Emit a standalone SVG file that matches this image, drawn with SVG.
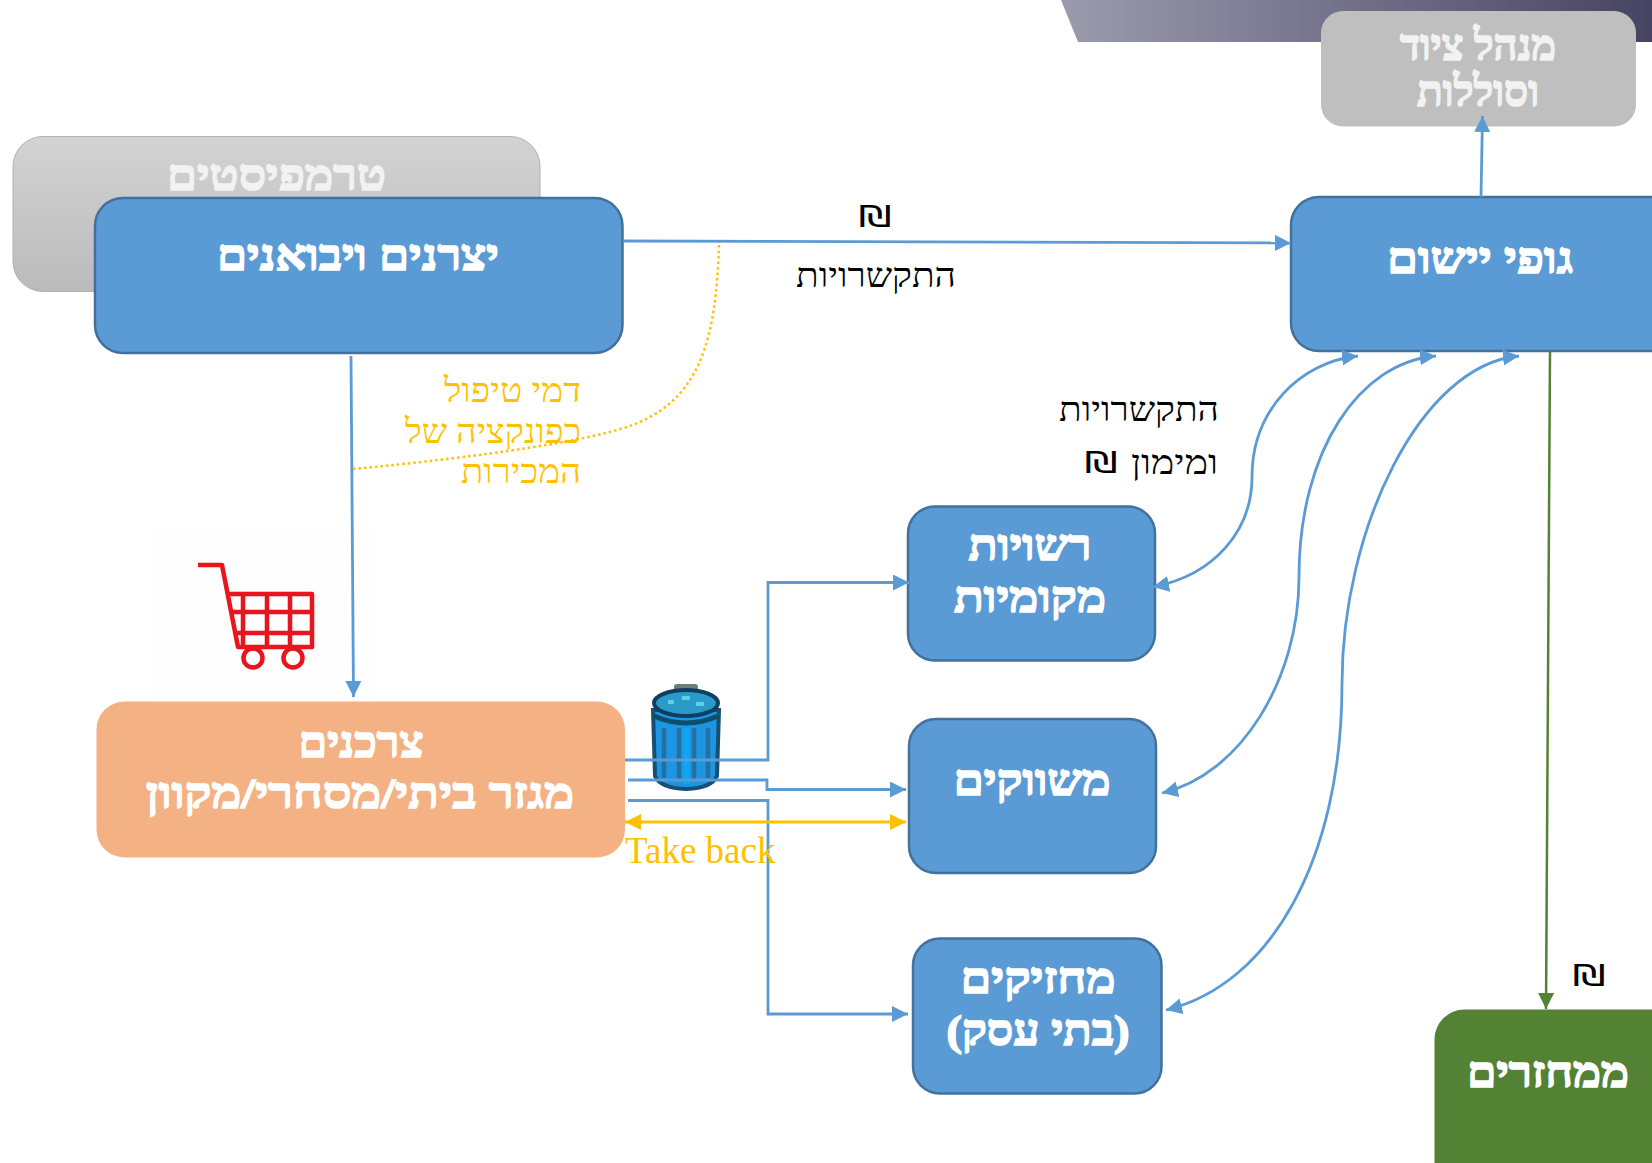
<svg xmlns="http://www.w3.org/2000/svg" width="1652" height="1163" viewBox="0 0 1652 1163">
<style>
text{font-family:"Liberation Serif","Noto Sans CJK SC",serif;direction:rtl;unicode-bidi:embed}
.t{font-weight:bold;font-size:43px;fill:#fff;stroke:#fff;stroke-width:1.600px;text-anchor:middle}
.g{fill:#f2f2f2;stroke:#f2f2f2}
.b{fill:#5b9bd5;stroke:#41719c;stroke-width:2.5}
.l{font-size:34px;fill:#000;text-anchor:start}
.y{font-size:34px;fill:#ffc000;text-anchor:start}
.s{font-family:"DejaVu Sans",sans-serif;font-size:31px;fill:#000;text-anchor:middle}
.c{fill:none;stroke:#5b9bd5;stroke-width:2.800}
</style>
<defs>
<linearGradient id="gb" x1="0" x2="1" y1="0" y2="0"><stop offset="0" stop-color="#9b9bad"/><stop offset="1" stop-color="#474463"/></linearGradient>
<linearGradient id="gg" x1="0" x2="0" y1="0" y2="1"><stop offset="0" stop-color="#d3d3d3"/><stop offset="1" stop-color="#bbbbbb"/></linearGradient>
<filter id="soft" x="-10%" y="-10%" width="120%" height="120%"><feGaussianBlur stdDeviation="0.700"/></filter>
<marker id="a" markerUnits="userSpaceOnUse" markerWidth="18" markerHeight="18" refX="16" refY="8" orient="auto-start-reverse"><path d="M0 0L16 8L0 16Z" fill="#5b9bd5"/></marker>
<marker id="g" markerUnits="userSpaceOnUse" markerWidth="18" markerHeight="18" refX="16" refY="8" orient="auto"><path d="M0 0L16 8L0 16Z" fill="#548235"/></marker>
<marker id="o" markerUnits="userSpaceOnUse" markerWidth="18" markerHeight="18" refX="16" refY="8" orient="auto-start-reverse"><path d="M0 0L16 8L0 16Z" fill="#ffc000"/></marker>
</defs>
<path id="banner" d="M1061 0L1652 0L1652 42L1078 42Z" fill="url(#gb)"/>
<g id="trumpists"><rect x="13" y="136.500" width="527" height="155" rx="30" fill="url(#gg)" stroke="#b0b0b0" stroke-width="1"/><text class="t g" x="276.500" y="190" textLength="219" lengthAdjust="spacingAndGlyphs">טרמפיסטים</text></g>
<g id="equipment"><rect x="1321" y="11" width="315" height="115.500" rx="22" fill="#bfbfbf"/><text class="t g" x="1478" y="60" textLength="156" lengthAdjust="spacingAndGlyphs">מנהל ציוד</text><text class="t g" x="1478" y="106" textLength="122" lengthAdjust="spacingAndGlyphs">וסוללות</text></g>
<g id="producers"><rect class="b" x="95" y="198" width="527.500" height="155" rx="28"/><text class="t" x="358" y="270" textLength="282" lengthAdjust="spacingAndGlyphs">יצרנים ויבואנים</text></g>
<g id="bodies"><rect class="b" x="1291" y="197" width="390" height="154" rx="28"/><text class="t" x="1480" y="273" textLength="186" lengthAdjust="spacingAndGlyphs">גופי יישום</text></g>
<g id="consumers"><rect x="96.500" y="701.500" width="528.500" height="156" rx="28" fill="#f4b183"/><text class="t" x="361" y="757" textLength="125" lengthAdjust="spacingAndGlyphs">צרכנים</text><text class="t" x="360" y="808" textLength="428" lengthAdjust="spacingAndGlyphs">מגזר ביתי/מסחרי/מקוון</text></g>
<g id="authorities"><rect class="b" x="908" y="506.500" width="247" height="154" rx="27"/><text class="t" x="1030" y="560" textLength="123" lengthAdjust="spacingAndGlyphs">רשויות</text><text class="t" x="1030" y="612" textLength="152" lengthAdjust="spacingAndGlyphs">מקומיות</text></g>
<g id="marketers"><rect class="b" x="909" y="719" width="247" height="154" rx="27"/><text class="t" x="1032" y="795" textLength="157" lengthAdjust="spacingAndGlyphs">משווקים</text></g>
<g id="holders"><rect class="b" x="913" y="938.500" width="248.500" height="155" rx="27"/><text class="t" x="1038" y="993" textLength="155" lengthAdjust="spacingAndGlyphs">מחזיקים</text><text class="t" x="1038" y="1045" textLength="183" lengthAdjust="spacingAndGlyphs">(בתי עסק)</text></g>
<g id="recyclers"><rect x="1434.500" y="1009.500" width="260" height="190" rx="30" fill="#548235"/><text class="t" x="1548" y="1087" textLength="162" lengthAdjust="spacingAndGlyphs">ממחזרים</text></g>
<rect x="152" y="528" width="225" height="170" fill="#fefefe"/>
<g id="cart" fill="none" stroke="#e8141c" stroke-width="4.500" filter="url(#soft)">
<path d="M198 565H222L238 647H312V594H228M233 612H312M237 633H312M243 594V647M267 594V647M290 594V647" stroke-linejoin="round"/>
<circle cx="253" cy="658" r="9.500"/><circle cx="293" cy="658" r="9.500"/>
</g>
<g id="bin" filter="url(#soft)">
<path d="M653 710L719 710L717 776Q712 788 686 789Q660 788 655 776Z" fill="#1b95e3" stroke="#174f72" stroke-width="4"/>
<path d="M664 728V778M679 728V780M694 728V780M708 728V778" stroke="#25709f" stroke-width="4.500" fill="none"/>
<path d="M686.500 728V784" stroke="#0fa6f5" stroke-width="6"/>
<rect x="674" y="684" width="24" height="9" rx="3" fill="#6a8080"/>
<ellipse cx="686" cy="703" rx="32" ry="13" fill="#2a9ac8" stroke="#10405f" stroke-width="4"/>
<path d="M668 702h6M682 698h8M696 704h8" stroke="#5ed0ea" stroke-width="4"/>
<path d="M654 716Q686 730 718 716" fill="none" stroke="#0f4f6a" stroke-width="5"/>
</g>
<g id="connectors">
<path class="c" d="M623 241L1291 243" marker-end="url(#a)"/>
<path class="c" d="M1481 197L1482.500 116" marker-end="url(#a)"/>
<path class="c" d="M351 356L353.500 697" marker-end="url(#a)"/>
<path class="c" d="M625 760H768V582.500H909" marker-end="url(#a)"/>
<path class="c" d="M628 780H767V789.500H906" marker-end="url(#a)"/>
<path class="c" d="M628 800.500H768V1014H908" marker-end="url(#a)"/>
<path d="M625 822H906" fill="none" stroke="#ffc000" stroke-width="3" marker-start="url(#o)" marker-end="url(#o)"/>
<path class="c" d="M1153 587C1215 575 1252 530 1252 477C1252 410 1300 362 1358 356" marker-start="url(#a)" marker-end="url(#a)"/>
<path class="c" d="M1162 793C1240 775 1299 680 1299 577C1299 450 1360 362 1436 356" marker-start="url(#a)" marker-end="url(#a)"/>
<path class="c" d="M1166 1010C1270 985 1342 860 1342 684C1342 530 1420 365 1519 356" marker-start="url(#a)" marker-end="url(#a)"/>
<path d="M1550 351L1546 1009" fill="none" stroke="#548235" stroke-width="2.500" marker-end="url(#g)"/>
<path d="M719 245C716 340 700 395 640 422C600 440 480 457 353 469" fill="none" stroke="#ffc000" stroke-width="2.500" stroke-dasharray="2.500 3"/>
</g>
<g id="labels">
<text class="s" x="875" y="227" textLength="33" lengthAdjust="spacingAndGlyphs">₪</text>
<text class="l" x="956" y="287" textLength="160" lengthAdjust="spacingAndGlyphs">התקשרויות</text>
<text class="l" x="1219" y="421" textLength="160" lengthAdjust="spacingAndGlyphs">התקשרויות</text>
<text class="l" x="1218" y="474" textLength="87" lengthAdjust="spacingAndGlyphs">ומימון</text>
<text class="s" x="1101" y="473" textLength="33" lengthAdjust="spacingAndGlyphs">₪</text>
<text class="s" x="1589" y="986" textLength="33" lengthAdjust="spacingAndGlyphs">₪</text>
<text class="y" x="581" y="402" textLength="137" lengthAdjust="spacingAndGlyphs">דמי טיפול</text>
<text class="y" x="581" y="443" textLength="176" lengthAdjust="spacingAndGlyphs">כפונקציה של</text>
<text class="y" x="581" y="483" textLength="120" lengthAdjust="spacingAndGlyphs">המכירות</text>
<text x="625" y="863" style="font-size:37px;fill:#ffc000;direction:ltr">Take back</text>
</g>
</svg>
